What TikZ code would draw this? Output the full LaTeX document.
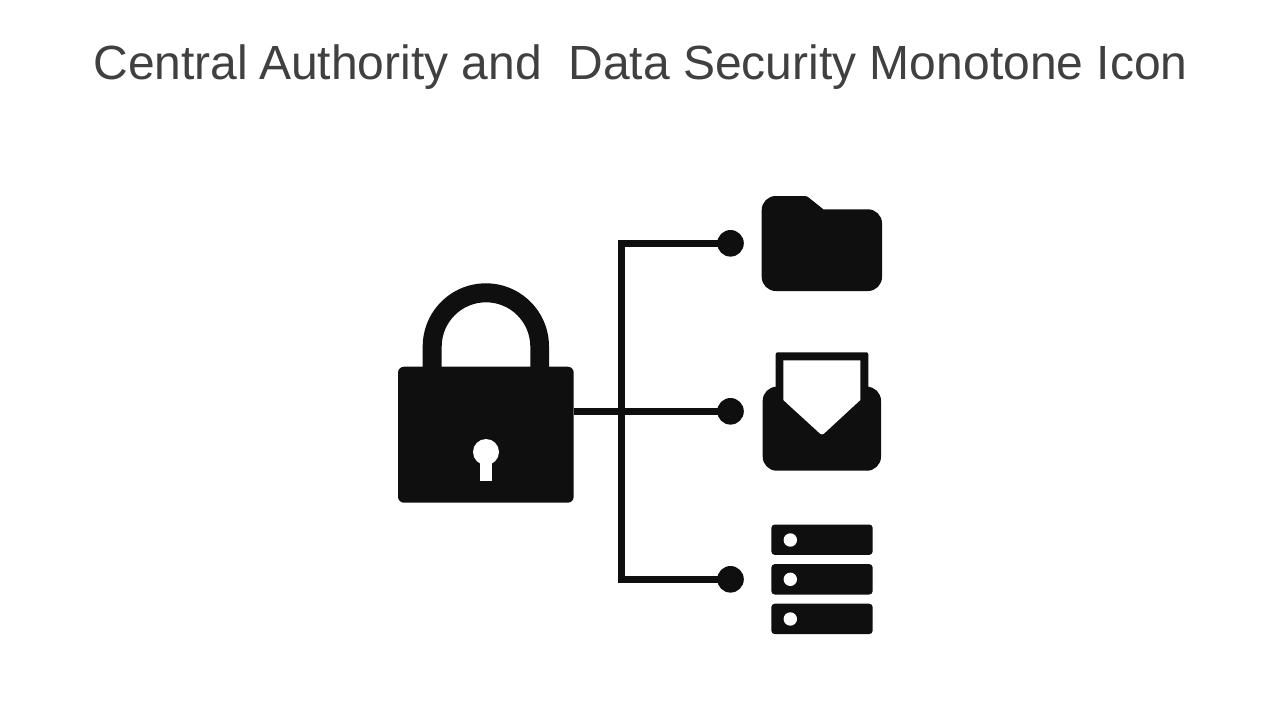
\documentclass[tikz,border=0pt]{standalone}
\usepackage{fontspec}
\setmainfont{Liberation Sans}
\definecolor{ink}{HTML}{0F0F0F}
\definecolor{titlegrey}{HTML}{404040}
\tikzset{
  solidbox/.style={fill=ink,draw=none,rounded corners=#1,inner sep=0pt,outer sep=0pt},
  conn/.style={draw=ink,line width=7pt,miter limit=10},
  dotnode/.style={circle,fill=ink,draw=none,minimum size=26.6pt,inner sep=0pt,outer sep=0pt},
  holedot/.style={circle,fill=white,draw=none,minimum size=13.4pt,inner sep=0pt,outer sep=0pt},
  rack/.style={fill=ink,draw=none,rounded corners=3.5pt,minimum width=101.4pt,minimum height=30.4pt,inner sep=0pt,outer sep=0pt},
  titletext/.style={text=titlegrey,font=\fontsize{48}{56}\selectfont,inner sep=0pt,anchor=base}
}
\begin{document}
\begin{tikzpicture}[x=1pt,y=-1pt]
\useasboundingbox (0,0) rectangle (1280,720);
\fill[white] (0,0) rectangle (1280,720);
\node[titletext] (title) at (640.5,79) {Central\hspace{11pt}Authority and\ \ Data Security Monotone Icon};

% connectors
\node[dotnode] (dotA) at (730.5,243.3) {};
\node[dotnode] (dotB) at (730.5,411.3) {};
\node[dotnode] (dotC) at (730.5,579.3) {};
\coordinate (trunkTop) at (621.8,243.3);
\coordinate (trunkBot) at (621.8,579.3);

% padlock
\fill[ink] (422.7,370) -- (422.7,346.45) arc[start angle=180,end angle=360,radius=63.15] -- (549,370) -- (530.3,370)
  -- (530.3,346.6) arc[start angle=0,end angle=-180,radius=44.3] -- (441.7,370) -- cycle;
\node[solidbox=6pt,minimum width=175.7pt,minimum height=136pt] (lock) at (485.85,434.7) {};
\node[circle,fill=white,minimum size=26pt,inner sep=0pt] (keyhole) at (486,452) {};
\fill[white] (480.3,458) rectangle (492,480.7);

\draw[conn] (lock.east |- dotB.center) -- (dotB.center);
\draw[conn] (dotA.center) -- (trunkTop) -- (trunkBot) -- (dotC.center);

% folder
\fill[ink] (761.7,210) arc[start angle=180,end angle=270,radius=14] -- (804,196)
  .. controls (806.5,196) and (807.5,196.5) .. (809,197.8) -- (823.3,209.3) -- (868,209.3)
  arc[start angle=-90,end angle=0,radius=14] -- (882,277)
  arc[start angle=0,end angle=90,radius=14] -- (775.7,291)
  arc[start angle=90,end angle=180,radius=14] -- cycle;

% envelope
\fill[ink] (762.7,400.7) arc[start angle=180,end angle=270,radius=14] -- (775.7,386.7) -- (775.7,354.3)
  arc[start angle=180,end angle=270,radius=2] -- (866.3,352.3)
  arc[start angle=-90,end angle=0,radius=2] -- (868.3,386.7) -- (867,386.7)
  arc[start angle=-90,end angle=0,radius=14] -- (881,456.7)
  arc[start angle=0,end angle=90,radius=14] -- (776.7,470.7)
  arc[start angle=90,end angle=180,radius=14] -- cycle;
\fill[white] (783.3,360.3) -- (860.3,360.3) -- (860.3,400) -- (824,433.6)
  .. controls (822.8,434.7) and (821.2,434.7) .. (820,433.6) -- (783.3,400) -- cycle;

% server
\node[rack] (rackA) at (822,539.7) {};
\node[rack] (rackB) at (822,579.3) {};
\node[rack] (rackC) at (822,618.9) {};
\node[holedot] (ledA) at (790.3,540) {};
\node[holedot] (ledB) at (790.3,579.3) {};
\node[holedot] (ledC) at (790.3,619) {};
\end{tikzpicture}
\end{document}
